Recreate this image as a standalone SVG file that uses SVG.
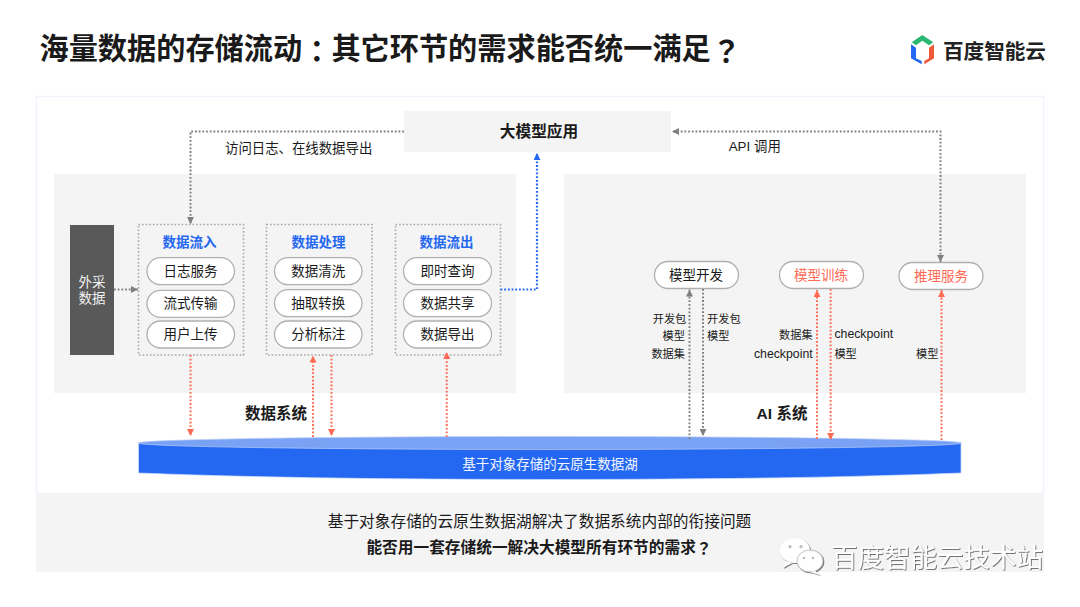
<svg xmlns="http://www.w3.org/2000/svg" width="1080" height="607" viewBox="0 0 1080 607">
<style>
text{font-family:"Liberation Sans","Noto Sans CJK SC",sans-serif;fill:#1a1a1a;dominant-baseline:central}
.m{text-anchor:middle}.e{text-anchor:end}
.b{font-weight:700}
.pt{font-size:13.5px;text-anchor:middle}
.h{font-size:13.5px;font-weight:700;fill:#2468f2;text-anchor:middle}
.s{font-size:11.2px}.ck{font-size:12.3px}
.pill{fill:#fff;stroke:#b0b0b0;stroke-width:1.3}
.pan{fill:#f4f4f4}
.db{fill:none;stroke:#a8a8a8;stroke-width:1.6;stroke-dasharray:1.6 2}
.c{fill:none;stroke-width:2;stroke-dasharray:1.8 1.9}
.g{stroke:#808080}.r{stroke:#ff6a55}.u{stroke:#2468f2;stroke-width:2.2}
.tc{font-family:"Noto Sans CJK TC",sans-serif}
.eye{fill:#bdbdbd}
</style>
<defs>
<marker id="ag" markerUnits="userSpaceOnUse" markerWidth="7" markerHeight="7" refX="7" refY="3.5" orient="auto-start-reverse"><path d="M0 0L7 3.5L0 7z" fill="#808080"/></marker>
<marker id="ar" markerUnits="userSpaceOnUse" markerWidth="7" markerHeight="7" refX="7" refY="3.5" orient="auto"><path d="M0 0L7 3.5L0 7z" fill="#ff6a55"/></marker>
<marker id="au" markerUnits="userSpaceOnUse" markerWidth="7" markerHeight="7" refX="7" refY="3.5" orient="auto"><path d="M0 0L7 3.5L0 7z" fill="#2468f2"/></marker>
<filter id="sh" x="-5%" y="-20%" width="110%" height="140%"><feDropShadow dx="0.8" dy="0.8" stdDeviation="0.5" flood-color="#555"/></filter>
</defs>
<rect width="1080" height="607" fill="#fff"/>
<g id="title"><text x="39.5" y="49" class="b" style="font-size:29.2px">海量数据的存储流动<tspan class="tc">：</tspan>其它环节的需求能否统一满足<tspan class="tc" dx="1">？</tspan></text></g>
<g id="logo">
<path d="M922.3 35L933.3 42.3L929 45.3L922.3 40.7L916 45.3L911.7 42.3z" fill="#2bb673"/>
<path d="M911 44.3L916 47.7V58.3L921.7 61V64.3L911 58.3z" fill="#2468f2"/>
<path d="M934 44.3L929 47.7V58.3L924.3 61V64.3L934 58.3z" fill="#f0583a"/>
<text x="943" y="51.5" style="font-size:20.6px;font-weight:700;fill:#222">百度智能云</text>
</g>
<g id="frame"><rect x="36.5" y="96.5" width="1007" height="397" fill="#fff" stroke="#f1f4fd" stroke-width="1.5"/></g>
<g id="footer">
<rect x="36" y="494" width="1008" height="78" class="pan"/>
<text x="539.5" y="521.7" class="m" style="font-size:15.7px">基于对象存储的云原生数据湖解决了数据系统内部的衔接问题</text>
<text x="539" y="547.3" class="m b" style="font-size:15.7px">能否用一套存储统一解决大模型所有环节的需求<tspan class="tc">？</tspan></text>
</g>
<g id="data-system">
<rect x="54" y="174" width="462" height="219" class="pan"/>
<text x="276" y="413" class="m b" style="font-size:15.5px">数据系统</text>
</g>
<g id="ai-system">
<rect x="564" y="174" width="462" height="219" class="pan"/>
<text x="782" y="413" class="m b" style="font-size:15.5px">AI 系统</text>
</g>
<g id="app">
<rect x="404" y="111" width="267" height="41" class="pan"/>
<text x="539" y="131.5" class="m b" style="font-size:15.7px">大模型应用</text>
</g>
<g id="external">
<rect x="70" y="225" width="44" height="130" fill="#595959"/>
<text x="92" y="282" class="m" style="font-size:13.5px;fill:#f2f2f2">外采</text>
<text x="92" y="298" class="m" style="font-size:13.5px;fill:#f2f2f2">数据</text>
</g>
<g id="data-in">
<rect x="138.5" y="224.5" width="105" height="130.5" class="db"/>
<text x="189.5" y="242.7" class="h">数据流入</text>
<rect x="147" y="257.7" width="87.5" height="27" rx="13.5" class="pill"/><text x="190.5" y="271" class="pt">日志服务</text>
<rect x="147" y="290.3" width="87.5" height="27" rx="13.5" class="pill"/><text x="190.5" y="303.7" class="pt">流式传输</text>
<rect x="147" y="321" width="87.5" height="27" rx="13.5" class="pill"/><text x="190.5" y="334.3" class="pt">用户上传</text>
</g>
<g id="data-process">
<rect x="266.5" y="224.5" width="105.5" height="130.5" class="db"/>
<text x="318.5" y="242.7" class="h">数据处理</text>
<rect x="274.5" y="257.7" width="87.5" height="27" rx="13.5" class="pill"/><text x="318.2" y="271.3" class="pt">数据清洗</text>
<rect x="274.5" y="289.7" width="87.5" height="27" rx="13.5" class="pill"/><text x="318.2" y="303.3" class="pt">抽取转换</text>
<rect x="274.5" y="321" width="87.5" height="27" rx="13.5" class="pill"/><text x="318.2" y="334.3" class="pt">分析标注</text>
</g>
<g id="data-out">
<rect x="395.5" y="224.5" width="105" height="130.5" class="db"/>
<text x="446.5" y="242.7" class="h">数据流出</text>
<rect x="403.5" y="257.7" width="88" height="27" rx="13.5" class="pill"/><text x="447.5" y="271" class="pt">即时查询</text>
<rect x="403.5" y="289.7" width="88" height="27" rx="13.5" class="pill"/><text x="447.5" y="303" class="pt">数据共享</text>
<rect x="403.5" y="321" width="88" height="27" rx="13.5" class="pill"/><text x="447.5" y="334.3" class="pt">数据导出</text>
</g>
<g id="model-dev"><rect x="654.5" y="261.5" width="84" height="27" rx="13.5" class="pill"/><text x="696" y="275" class="pt">模型开发</text></g>
<g id="model-train"><rect x="779.5" y="261.5" width="84" height="27" rx="13.5" class="pill"/><text x="821" y="275" class="pt" style="fill:#ff6a55">模型训练</text></g>
<g id="inference"><rect x="899" y="262.5" width="84" height="27" rx="13.5" class="pill"/><text x="941" y="276" class="pt" style="fill:#ff6a55">推理服务</text></g>
<g id="lake">
<path d="M138.5 443V473Q300 479.5 550 479.5T961 473V443z" fill="#2468f2" stroke="#cfdcfb" stroke-width="0.7"/>
<ellipse cx="550" cy="443" rx="411.5" ry="6.5" fill="#7aa2f4" stroke="#b9cdf9" stroke-width="0.7"/>
<text x="550" y="464" class="m" style="font-size:13.5px;fill:#f4f7ff">基于对象存储的云原生数据湖</text>
</g>
<g id="connectors">
<path class="c g" d="M404 131.5H190.5V224" marker-end="url(#ag)"/>
<path class="c g" d="M940.5 262V131.5H672" marker-start="url(#ag)" marker-end="url(#ag)"/>
<path class="c g" d="M114 289.5H138" marker-end="url(#ag)"/>
<path class="c u" d="M500.5 289.5H537V153" marker-end="url(#au)"/>
<path class="c r" d="M190.5 355V436" marker-end="url(#ar)"/>
<path class="c r" d="M313 437V355.5" marker-end="url(#ar)"/>
<path class="c r" d="M331.5 355V436" marker-end="url(#ar)"/>
<path class="c r" d="M446.7 437V352" marker-end="url(#ar)"/>
<path class="c g" d="M689.5 439V289.5" marker-end="url(#ag)"/>
<path class="c g" d="M703 289V436" marker-end="url(#ag)"/>
<path class="c r" d="M817 439V290" marker-end="url(#ar)"/>
<path class="c r" d="M830.6 289V440" marker-end="url(#ar)"/>
<path class="c r" d="M941.5 440V290" marker-end="url(#ar)"/>
</g>
<g id="connector-labels">
<text x="225" y="148" style="font-size:13.4px">访问日志、在线数据导出</text>
<text x="728.7" y="146.7" style="font-size:13.4px">API 调用</text>
<text x="686.3" y="319.3" class="s e">开发包</text>
<text x="685" y="336.3" class="s e">模型</text>
<text x="685" y="354.3" class="s e">数据集</text>
<text x="707" y="319.3" class="s">开发包</text>
<text x="707" y="336.3" class="s">模型</text>
<text x="812.7" y="334.7" class="s e">数据集</text>
<text x="812.7" y="353.7" class="ck e">checkpoint</text>
<text x="834.4" y="334.4" class="ck">checkpoint</text>
<text x="834.4" y="354.3" class="s">模型</text>
<text x="938.4" y="354.3" class="s e">模型</text>
</g>
<g id="watermark" filter="url(#sh)">
<ellipse cx="795" cy="550.5" rx="15" ry="12.5" fill="#fff"/>
<path d="M785 561L783 568L792 563z" fill="#fff"/>
<circle cx="790" cy="546.7" r="1.6" class="eye"/><circle cx="801" cy="546.7" r="1.6" class="eye"/>
<ellipse cx="810" cy="561" rx="13" ry="11" fill="#fff" stroke="#aaa" stroke-width="0.7"/>
<path d="M815 571L820 575L810 572z" fill="#fff"/>
<circle cx="804" cy="558" r="1.3" class="eye"/><circle cx="813" cy="558" r="1.3" class="eye"/>
<text x="831" y="558" style="font-size:26.5px;fill:#fff">百度智能云技术站</text>
</g>
</svg>
